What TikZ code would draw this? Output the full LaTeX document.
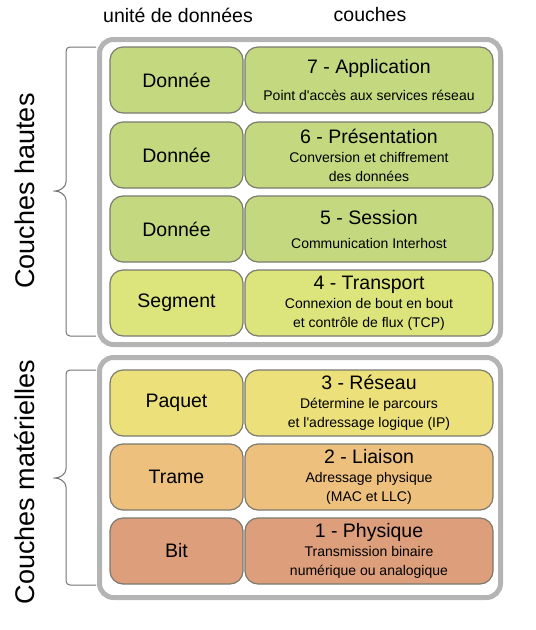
\documentclass[tikz,border=0pt]{standalone}
\usepackage{fontspec}
\setmainfont{Liberation Sans}
\usepackage{tikz}

\definecolor{vert}{RGB}{196,217,127}
\definecolor{vertjaune}{RGB}{220,228,124}
\definecolor{jaune}{RGB}{236,224,122}
\definecolor{orange}{RGB}{237,192,126}
\definecolor{saumon}{RGB}{221,159,123}
\definecolor{cadregris}{RGB}{180,180,180}
\definecolor{bord}{RGB}{122,122,112}

\newcommand{\titre}[1]{{\fontsize{19.5}{22}\selectfont #1}}

\tikzset{
  unite/.style={draw=bord, line width=1.2pt, rounded corners=13pt,
    minimum width=133pt, minimum height=66pt, font=\fontsize{19.5}{22}\selectfont},
  couche/.style={draw=bord, line width=1.2pt, rounded corners=13pt, align=center,
    minimum width=248pt, minimum height=66pt, font=\fontsize{14}{19}\selectfont},
  cadre/.style={draw=cadregris, line width=5pt, rounded corners=14pt},
  accolade/.style={draw=black!55, line width=1pt, rounded corners=4pt}
}

\begin{document}
\begin{tikzpicture}[x=1pt, y=-1pt]
  \useasboundingbox (0,0) rectangle (536,630);

  % en-tetes
  \node[font=\fontsize{19.5}{22}\selectfont] (hu) at (178,15) {unité de données};
  \node[font=\fontsize{19.5}{22}\selectfont] (hc) at (370,15) {couches};

  % cadres
  \draw[cadre] (99.5,39.5) rectangle (500.5,344.5);
  \draw[cadre] (99.5,357.5) rectangle (500.5,597.5);

  % couches hautes
  \node[unite, fill=vert] (d7) at (176.5,80) {Donnée};
  \node[couche, fill=vert] (c7) at (369,80) {\titre{7 - Application}\\[8pt]Point d\textquotesingle accès aux services réseau};
  \node[unite, fill=vert] (d6) at (176.5,155) {Donnée};
  \node[couche, fill=vert] (c6) at (369,155) {\titre{6 - Présentation}\\Conversion et chiffrement\\des données};
  \node[unite, fill=vert] (d5) at (176.5,229) {Donnée};
  \node[couche, fill=vert] (c5) at (369,229) {\titre{5 - Session}\\[5pt]Communication Interhost};
  \node[unite, fill=vertjaune] (d4) at (176.5,303) {Segment};
  \node[couche, fill=vertjaune] (c4) at (369,303) {\titre{4 - Transport}\\Connexion de bout en bout\\et contrôle de flux (TCP)};

  % couches materielles
  \node[unite, fill=jaune] (d3) at (176.5,403) {Paquet};
  \node[couche, fill=jaune] (c3) at (369,403) {\titre{3 - Réseau}\\Détermine le parcours\\et l\textquotesingle adressage logique (IP)};
  \node[unite, fill=orange] (d2) at (176.5,477) {Trame};
  \node[couche, fill=orange] (c2) at (369,477) {\titre{2 - Liaison}\\Adressage physique\\(MAC et LLC)};
  \node[unite, fill=saumon] (d1) at (176.5,551) {Bit};
  \node[couche, fill=saumon] (c1) at (369,551) {\titre{1 - Physique}\\Transmission binaire\\numérique ou analogique};

  % accolades
  \coordinate (h1) at (96,47);
  \coordinate (h2) at (96,336);
  \coordinate (m1) at (96,370);
  \coordinate (m2) at (96,585);
  \draw[accolade] (h1) -| (66,178) .. controls (66,187) and (60,191) .. (51,191)
    .. controls (60,191) and (66,195) .. (66,204) |- (h2);
  \draw[accolade] (m1) -| (66,465) .. controls (66,474) and (60,478) .. (51,478)
    .. controls (60,478) and (66,482) .. (66,491) |- (m2);

  \node[rotate=90, font=\fontsize{27}{30}\selectfont] (ht) at (25,191) {Couches hautes};
  \node[rotate=90, font=\fontsize{27}{30}\selectfont] (mt) at (25,482) {Couches matérielles};
\end{tikzpicture}
\end{document}
